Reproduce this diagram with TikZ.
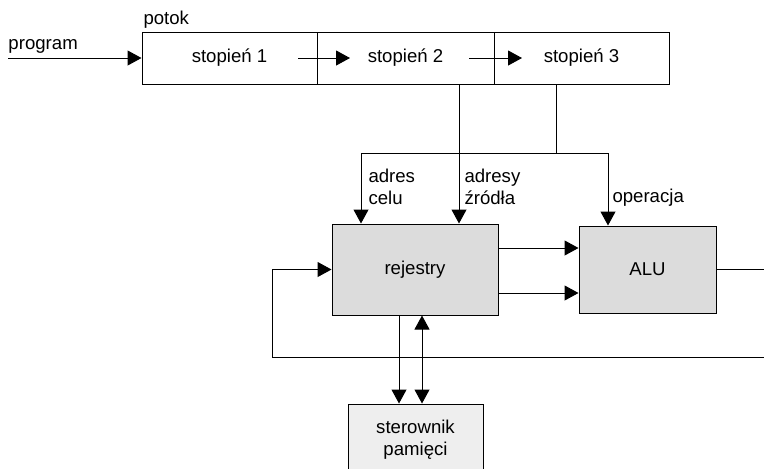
\documentclass[tikz,border=0pt]{standalone}
\usepackage{fontspec}
\setmainfont{Liberation Sans}
\usetikzlibrary{arrows.meta}
\definecolor{regfill}{HTML}{DCDCDC}
\definecolor{memfill}{HTML}{EEEEEE}
\begin{document}
\begin{tikzpicture}[x=0.5pt, y=-0.5pt, line width=0.5pt,
  every node/.style={font=\fontsize{9.3}{11}\selectfont},
  box/.style={draw, inner sep=0pt},
  stagebox/.style={box, minimum height=26pt},
  lbl/.style={align=left, anchor=base west, inner sep=0pt},
  >={Triangle[length=7pt, width=7.5pt]}]
\useasboundingbox (0,0) rectangle (764,468);
\node[stagebox, minimum width=87.5pt] (st1) at (229.5,58){stopień 1};
\node[stagebox, minimum width=88.5pt] (st2) at (405.5,58){stopień 2};
\node[stagebox, minimum width=87.5pt] (st3) at (581.5,58){stopień 3};
\node[lbl] (potok) at (143,24){potok};
\node[lbl] (prog) at (8,49){program};
\coordinate (pin) at (8,58);
\draw[->](pin) -- (st1.west);
\coordinate (a1s) at (298,58);
\coordinate (a1e) at (350,58);
\coordinate (a2s) at (469,58);
\coordinate (a2e) at (522,58);
\draw[->](a1s) -- (a1e);
\draw[->](a2s) -- (a2e);
\node[box, fill=regfill, minimum width=83pt, minimum height=45.5pt] (rej) at (415,269.5){rejestry};
\node[box, fill=regfill, minimum width=68.5pt, minimum height=43.5pt] (alu) at (647.5,269.5){ALU};
\node[box, fill=memfill, minimum width=67.5pt, minimum height=36pt, align=center] (ster) at (415.5,440){sterownik\\pamięci};
% dekoder
\coordinate (src) at (459,84);
\coordinate (opc) at (556,84);
\coordinate (cel) at (361,153);
\coordinate (opr) at (608,153);
\draw[->](src) -- (src |- rej.north);
\draw[->](opc) |- (cel) -- (cel |- rej.north);
\draw[->](opc) |- (opr) -- (opr |- alu.north);
\node[lbl] (adr) at (368,204){adres\\celu};
\node[lbl] (zrd) at (464,204){adresy\\źródła};
\node[lbl] (op) at (612,202){operacja};
% dane
\draw[->]([yshift=10.75pt]rej.east) -- ([yshift=10.75pt]rej.east -| alu.west);
\draw[->]([yshift=-11.75pt]rej.east) -- ([yshift=-11.75pt]rej.east -| alu.west);
\coordinate (fbr) at (790,357);
\coordinate (fbl) at (272,357);
\draw[->](alu.east) -| (fbr) -- (fbl) |- (rej.west);
\draw[->]([xshift=-8pt]rej.south) -- ([xshift=-8pt]rej.south |- ster.north);
\draw[<->]([xshift=3.5pt]rej.south) -- ([xshift=3.5pt]rej.south |- ster.north);
\end{tikzpicture}
\end{document}
